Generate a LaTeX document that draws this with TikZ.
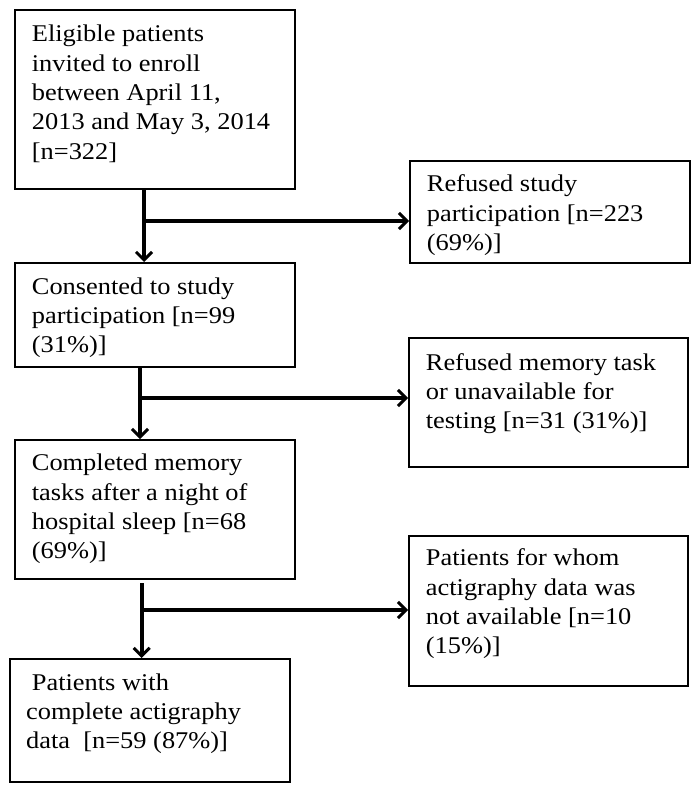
\documentclass[tikz,border=0pt]{standalone}
\usepackage{fontspec}
\setmainfont{Liberation Serif}[FakeStretch=1.1]
\usetikzlibrary{arrows.meta,calc}
\tikzset{
  box/.style={draw=black, line width=2pt, anchor=north west, inner sep=0pt},
  txt/.style={anchor=north west, inner sep=0pt, align=left, font=\fontsize{24}{29.3}\selectfont},
  arr/.style={draw=black, line width=4pt, -{Straight Barb[length=8pt,width=16pt,line width=3pt]}},
}
\begin{document}
\begin{tikzpicture}[x=1pt,y=-1pt]
\useasboundingbox (0,0) rectangle (699,791);
% boxes
\node[box, minimum width=280pt, minimum height=179pt] (b1) at (14,9) {};
\node[box, minimum width=280pt, minimum height=102pt] (r1) at (409,160) {};
\node[box, minimum width=280pt, minimum height=104pt] (b2) at (14,262) {};
\node[box, minimum width=279pt, minimum height=129pt] (r2) at (408,337) {};
\node[box, minimum width=280pt, minimum height=139pt] (b3) at (14,439) {};
\node[box, minimum width=279pt, minimum height=150pt] (r3) at (408,535) {};
\node[box, minimum width=280pt, minimum height=123pt] (b4) at (9,658) {};
% texts (anchor = first baseline - 0.7*29.3)
\node[txt] (t1) at (31.7,21.2) {\strut Eligible patients\\invited to enroll\\between April 11,\\2013 and May 3, 2014\\{[n=322]}};
\node[txt] (tr1) at (426.7,171.2) {\strut Refused study\\participation [n=223\\(69\%)]};
\node[txt] (t2) at (31.7,273.5) {\strut Consented to study\\participation [n=99\\(31\%)]};
\node[txt] (tr2) at (425.7,349.5) {\strut Refused memory task\\or unavailable for\\testing [n=31 (31\%)]};
\node[txt] (t3) at (31.7,450.2) {\strut Completed memory\\tasks after a night of\\hospital sleep [n=68\\(69\%)]};
\node[txt] (tr3) at (425.7,545.2) {\strut Patients for whom\\actigraphy data was\\not available [n=10\\(15\%)]};
\node[txt] (t4) at (26,669.5) {\strut\hspace{5.7pt}Patients with\\complete actigraphy\\data\ \ [n=59 (87\%)]};
% connectors
\coordinate (j1) at (144,221);
\coordinate (j2) at (140,398);
\coordinate (j3) at (141.7,610);
\coordinate (s3) at (141.7,583);
\draw[arr] (j1 |- b1.south) -- (j1 |- b2.north);
\draw[arr] (j1) -- (j1 -| r1.west);
\draw[arr] (j2 |- b2.south) -- (j2 |- b3.north);
\draw[arr] (j2) -- (j2 -| r2.west);
\draw[arr] (s3) -- (j3 |- b4.north);
\draw[arr] (j3) -- (j3 -| r3.west);
\end{tikzpicture}
\end{document}
